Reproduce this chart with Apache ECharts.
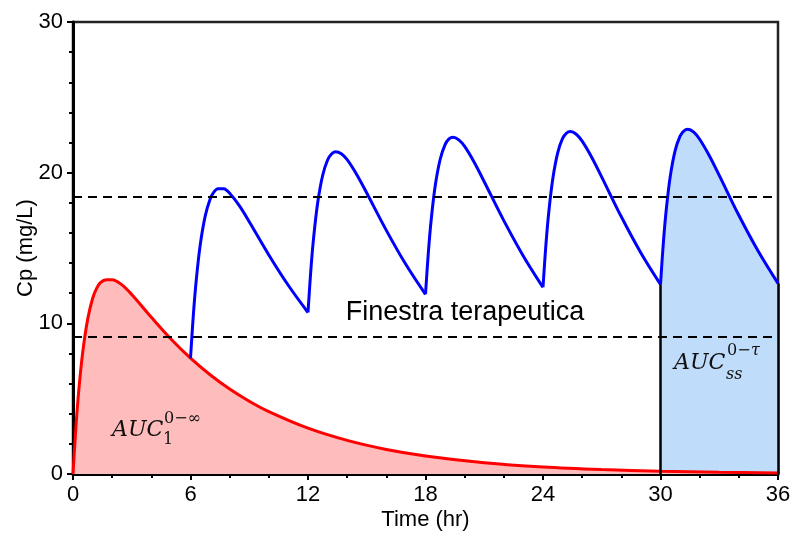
<!DOCTYPE html>
<html>
<head>
<meta charset="utf-8">
<title>Cp vs Time</title>
<script src="https://cdn.jsdelivr.net/npm/echarts@6/dist/echarts.min.js"></script>
<style>
  html, body { margin: 0; padding: 0; background: #fff; }
  #chart { width: 790px; height: 534px; }
</style>
</head>
<body>
<div id="chart"></div>
<script>
// Single dose (given at t = 0): time (hr) and plasma concentration (mg/L)
const singleDoseTime = [0, 0.15, 0.3, 0.5, 0.75, 1, 1.2, 1.4, 1.7, 2, 2.5, 3, 4, 5, 6, 7, 8, 9, 10, 12, 14, 16, 18, 21, 24, 27, 30, 33, 36];
const singleDoseCp   = [0, 3.13, 5.61, 8.12, 10.28, 11.65, 12.30, 12.70, 12.90, 12.90, 12.55, 11.91, 10.40, 8.96, 7.69, 6.59, 5.64, 4.83, 4.14, 3.04, 2.23, 1.63, 1.20, 0.75, 0.47, 0.30, 0.19, 0.12, 0.07];

// Repeated dosing every 6 hr: dose times and time since each dose
const doseTimes = [6, 12, 18, 24, 30];
const hoursAfterDose = [0, 0.15, 0.3, 0.5, 0.75, 1, 1.2, 1.4, 1.7, 2, 2.5, 3, 4, 5, 6];

// Concentration during each dosing interval (mg/L)
const interval1Cp = [7.69, 10.64, 12.95, 15.24, 17.12, 18.24, 18.72, 18.94, 18.93, 18.63, 17.79, 16.74, 14.54, 12.51, 10.72];
const interval2Cp = [10.73, 13.61, 15.85, 18.05, 19.83, 20.84, 21.24, 21.39, 21.26, 20.86, 19.85, 18.65, 16.17, 13.90, 11.92];
const interval3Cp = [11.93, 14.78, 16.99, 19.16, 20.89, 21.86, 22.24, 22.35, 22.18, 21.74, 20.66, 19.40, 16.82, 14.46, 12.39];
const interval4Cp = [12.40, 15.24, 17.44, 19.59, 21.31, 22.27, 22.63, 22.73, 22.55, 22.09, 20.99, 19.70, 17.07, 14.67, 12.58];
const interval5Cp = [12.59, 15.43, 17.62, 19.77, 21.48, 22.43, 22.78, 22.88, 22.69, 22.22, 21.11, 19.82, 17.17, 14.76, 12.65];

// Therapeutic window bounds (mg/L)
const windowLow = 9.1;
const windowHigh = 18.4;

// Axis ranges
const xRange = [0, 36], xStep = 6;
const yRange = [0, 30], yStep = 10;

const intervals = [interval1Cp, interval2Cp, interval3Cp, interval4Cp, interval5Cp];
const singleDoseData = singleDoseTime.map((t, i) => [t, singleDoseCp[i]]);
const intervalData = intervals.map((vals, k) => hoursAfterDose.map((s, i) => [doseTimes[k] + s, vals[i]]));
const steadyState = intervalData[intervalData.length - 1];
const ssStart = steadyState[0];
const ssEnd = steadyState[steadyState.length - 1];

const sansFont = "'Liberation Sans', Arial, Helvetica, sans-serif";
const mathFont = "'DejaVu Serif', 'Liberation Serif', serif";

const chart = echarts.init(document.getElementById('chart'), null, { renderer: 'canvas' });

const blueLine = (data) => ({
  type: 'line',
  data: data,
  smooth: 0.35,
  showSymbol: false,
  symbol: 'none',
  silent: true,
  z: 4,
  lineStyle: { color: '#0000ff', width: 3 }
});

const axisCommon = {
  axisLine: { show: true, onZero: false, lineStyle: { color: '#000', width: 3 } },
  axisTick: { show: true, inside: false, length: 6, lineStyle: { color: '#000', width: 2 } },
  minorTick: { show: true, length: 4, lineStyle: { color: '#000', width: 2 } },
  splitLine: { show: false },
  minorSplitLine: { show: false },
  axisLabel: { color: '#000', fontSize: 22, fontFamily: sansFont, margin: 10 },
  nameTextStyle: { color: '#000', fontSize: 22, fontFamily: sansFont },
  nameMoveOverlap: false
};

// Text helper for the AUC annotations
const mathText = (x, y, text, size, italic) => ({
  type: 'text', x: x, y: y, z: 10, silent: true,
  style: {
    text: text, fill: '#111',
    font: (italic ? 'italic ' : '') + size + 'px ' + mathFont,
    verticalAlign: 'middle'
  }
});

chart.setOption({
  animation: false,
  backgroundColor: '#fff',
  grid: {
    left: 73, right: 12, top: 22, bottom: 60,
    show: true, borderColor: '#222', borderWidth: 2.5, backgroundColor: 'transparent',
    containLabel: false, outerBoundsMode: 'none'
  },
  xAxis: Object.assign({}, axisCommon, {
    type: 'value', min: xRange[0], max: xRange[1], interval: xStep,
    minorTick: Object.assign({}, axisCommon.minorTick, { splitNumber: 3 }),
    name: 'Time (hr)', nameLocation: 'middle', nameGap: 35
  }),
  yAxis: Object.assign({}, axisCommon, {
    type: 'value', min: yRange[0], max: yRange[1], interval: yStep,
    minorTick: Object.assign({}, axisCommon.minorTick, { splitNumber: 5 }),
    name: 'Cp (mg/L)', nameLocation: 'middle', nameGap: 36
  }),
  series: [
    // Steady-state AUC over one dosing interval
    {
      type: 'line',
      data: steadyState,
      smooth: 0.35,
      symbol: 'none',
      silent: true,
      z: 1,
      lineStyle: { width: 0, opacity: 0 },
      areaStyle: { color: '#bfdcfb', opacity: 1, origin: 'start' },
      markLine: {
        silent: true,
        symbol: 'none',
        label: { show: false },
        lineStyle: { color: '#000', width: 2.5, type: 'solid' },
        data: [
          [{ coord: [ssStart[0], 0] }, { coord: [ssStart[0], ssStart[1]] }],
          [{ coord: [ssEnd[0], 0] }, { coord: [ssEnd[0], ssEnd[1]] }]
        ]
      }
    },
    // Single dose curve and its AUC
    {
      type: 'line',
      data: singleDoseData,
      smooth: 0.35,
      symbol: 'none',
      silent: true,
      z: 2,
      lineStyle: { color: '#ff0000', width: 3 },
      areaStyle: { color: '#ffbcbc', opacity: 1, origin: 'start' }
    },
    // Multiple dosing curve, one piece per interval
    ...intervalData.map(blueLine),
    // Therapeutic window
    {
      type: 'line',
      data: [],
      z: 5,
      markLine: {
        silent: true,
        symbol: 'none',
        label: { show: false },
        lineStyle: { color: '#000', width: 1.8, type: [9, 6] },
        data: [{ yAxis: windowHigh }, { yAxis: windowLow }]
      }
    }
  ],
  graphic: [
    {
      type: 'text', x: 465, y: 313, z: 10, silent: true,
      style: {
        text: 'Finestra terapeutica', fill: '#000',
        font: '27px ' + sansFont, align: 'center', verticalAlign: 'middle'
      }
    },
    // AUC over the first dose, zero to infinity
    mathText(112, 430, 'AUC', 22, true),
    mathText(164, 419, '0\u2212\u221e', 16, false),
    mathText(163, 440, '1', 16, false),
    // AUC over one steady-state dosing interval
    mathText(674, 363, 'AUC', 22, true),
    mathText(727, 351, '0\u2212', 16, false),
    mathText(751, 351, '\u03c4', 16, true),
    mathText(726, 375, 'ss', 16, true)
  ]
});
</script>
</body>
</html>
